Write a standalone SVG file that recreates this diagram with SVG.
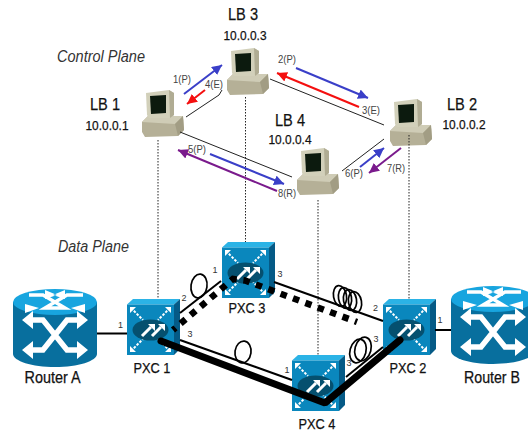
<svg xmlns="http://www.w3.org/2000/svg" xmlns:xlink="http://www.w3.org/1999/xlink" width="528" height="434" viewBox="0 0 528 434">
<style>
text{font-family:"Liberation Sans",Arial,sans-serif;fill:#111;stroke:#111;stroke-width:.25}
.t{font-size:16.5px;text-anchor:middle}
.ip{font-size:13.5px;text-anchor:middle}
.pl{font-size:16px;font-style:italic;fill:#333;stroke:none}
.m{font-size:11px;fill:#444;stroke:none;text-anchor:middle}
.n{font-size:9px;fill:#333;stroke:none;text-anchor:middle}
.px{font-size:15.5px;text-anchor:middle}
.ctl{stroke:#222;stroke-width:1;fill:none}
.dot{stroke:#222;stroke-width:1;stroke-dasharray:1.5 1.5;fill:none}
.link{stroke:#000;stroke-width:2;fill:none}
.coil2{stroke:#000;stroke-width:1.7;fill:none}
.blue{stroke:#3a3fc8;stroke-width:2;fill:none;marker-end:url(#ab)}
.red{stroke:#f40f0f;stroke-width:2;fill:none;marker-end:url(#ar)}
.pur{stroke:#7a1a8c;stroke-width:2;fill:none;marker-end:url(#ap)}
</style>
<defs>
<marker id="ab" markerUnits="userSpaceOnUse" markerWidth="12" markerHeight="12" refX="10" refY="5" orient="auto"><path d="M0 0L10 5L0 10Z" fill="#3a3fc8"/></marker>
<marker id="ar" markerUnits="userSpaceOnUse" markerWidth="12" markerHeight="12" refX="10" refY="5" orient="auto"><path d="M0 0L10 5L0 10Z" fill="#f40f0f"/></marker>
<marker id="ap" markerUnits="userSpaceOnUse" markerWidth="12" markerHeight="12" refX="10" refY="5" orient="auto"><path d="M0 0L10 5L0 10Z" fill="#7a1a8c"/></marker>
<symbol id="pc" width="44" height="50" viewBox="0 0 44 50" overflow="visible">
<path d="M0 33L6 27H41L42 41L36 47L3 48L0 43Z" fill="#b5b097"/>
<path d="M0 33L33 35L41 27H6Z" fill="#cfccb6"/>
<path d="M33 35L41 27L42 41L36 47Z" fill="#a29d84"/>
<path d="M4 4L27 1L32 4V26L28 29L7 29L5 26Z" fill="#d2d0ba"/>
<path d="M27 1L32 4V26L28 29Z" fill="#b0ac93"/>
<path d="M8 7L24 6V24L9 25Z" fill="#0c1a0e"/>
</symbol>
<symbol id="pxc" width="53" height="56" viewBox="0 0 53 56">
<path d="M0 5.500L6 0H53L47 5.500Z" fill="#2bb3e6"/>
<path d="M47 5.500L53 0V50L47 56Z" fill="#055a86"/>
<rect x="0" y="5.500" width="47" height="50.500" fill="#0a87bd"/>
<g stroke="#fff" stroke-width="2" stroke-dasharray="2.500 1.500" fill="none">
<path d="M4 9L16 21M43 9L31 21M4 52L16 40M43 52L31 40"/></g>
<path d="M3 14V8H9ZM44 14V8H38ZM3 47V53H9ZM44 47V53H38Z" fill="#fff"/>
<ellipse cx="23.500" cy="31" rx="18" ry="10.500" fill="#05506f"/>
<path d="M15 37L24 28M25 37L34 28" stroke="#fff" stroke-width="3" fill="none"/>
<path d="M21 25H28V32ZM31 25H38V32Z" fill="#fff"/>
</symbol>
<symbol id="router" width="84" height="78" viewBox="0 0 84 78">
<path d="M0 13V65C0 72 19 78 42 78S84 72 84 65V13Z" fill="#086f9e"/>
<ellipse cx="42" cy="13" rx="42" ry="13" fill="#18a5df"/>
<g stroke="#fff" fill="none">
<path d="M16 6H30L52 19H38M70 6H54L32 19H46" stroke-width="3.500"/>
<path d="M15 31H30L54 61H70M69 31H54L30 61H14" stroke-width="5.500"/>
</g>
<path d="M32 1L44 6L32 10ZM52 1L40 6L52 10ZM12 15L26 19L12 24ZM72 15L58 19L72 24Z" fill="#fff"/>
<path d="M9 31L20 22V40ZM75 31L64 22V40ZM9 61L20 52V70ZM75 61L64 52V70Z" fill="#fff"/>
</symbol>
</defs>

<g id="plane-labels">
<text class="pl" x="57" y="62" textLength="88" lengthAdjust="spacingAndGlyphs">Control Plane</text>
<text class="pl" x="58" y="252" textLength="71" lengthAdjust="spacingAndGlyphs">Data Plane</text>
</g>

<g id="lb1"><use href="#pc" x="142" y="89"/><text class="t" x="105" y="110" textLength="30" lengthAdjust="spacingAndGlyphs">LB 1</text><text class="ip" x="107" y="130" textLength="43" lengthAdjust="spacingAndGlyphs">10.0.0.1</text></g>
<g id="lb3"><use href="#pc" x="227" y="47"/><text class="t" x="243" y="20" textLength="30" lengthAdjust="spacingAndGlyphs">LB 3</text><text class="ip" x="245" y="40" textLength="43" lengthAdjust="spacingAndGlyphs">10.0.0.3</text></g>
<g id="lb4"><use href="#pc" x="297" y="147"/><text class="t" x="290" y="126" textLength="30" lengthAdjust="spacingAndGlyphs">LB 4</text><text class="ip" x="290" y="144" textLength="43" lengthAdjust="spacingAndGlyphs">10.0.0.4</text></g>
<g id="lb2"><use href="#pc" x="390" y="98"/><text class="t" x="462" y="110" textLength="30" lengthAdjust="spacingAndGlyphs">LB 2</text><text class="ip" x="464" y="129" textLength="43" lengthAdjust="spacingAndGlyphs">10.0.0.2</text></g>

<g id="router-a"><use href="#router" x="13" y="289"/><text class="t" x="52.500" y="383" textLength="56" lengthAdjust="spacingAndGlyphs">Router A</text></g>
<g id="router-b"><use href="#router" x="451" y="286"/><text class="t" x="492" y="383" textLength="56" lengthAdjust="spacingAndGlyphs">Router B</text></g>
<g id="pxc1"><use href="#pxc" x="127" y="299"/><text class="px" x="152" y="373" textLength="37" lengthAdjust="spacingAndGlyphs">PXC 1</text></g>
<g id="pxc3"><use href="#pxc" x="222" y="242"/><text class="px" x="247" y="313" textLength="37" lengthAdjust="spacingAndGlyphs">PXC 3</text></g>
<g id="pxc2"><use href="#pxc" x="383" y="299"/><text class="px" x="408" y="373" textLength="37" lengthAdjust="spacingAndGlyphs">PXC 2</text></g>
<g id="pxc4"><use href="#pxc" x="292" y="355"/><text class="px" x="317" y="429" textLength="37" lengthAdjust="spacingAndGlyphs">PXC 4</text></g>

<g id="connectors">
<path class="ctl" d="M222 90L219 95L186 117"/>
<path class="ctl" d="M270 79L384 125"/>
<path class="ctl" d="M180 132L292 177"/>
<path class="ctl" d="M342 171L384 139"/>
<path class="dot" d="M158 140V299M245.500 97V242M318 200V355M409 135V299"/>
<path class="blue" d="M184 94L222 65"/>
<path class="red" d="M205 90L187 104"/>
<path class="blue" d="M296 68L368 98"/>
<path class="red" d="M359 107L277 73"/>
<path class="blue" d="M210 154L284 184"/>
<path class="pur" d="M277 191L178 150"/>
<path class="blue" d="M360 167L384 148"/>
<path class="pur" d="M401 148L369 173"/>
<path class="link" d="M97 333.500H127M435 330H451"/>
<path class="link" d="M180 313L221 281"/>
<path class="link" d="M180 340L292 380"/>
<path class="link" d="M274 282L383 321"/>
<path class="link" d="M346 377L383 347"/>
<ellipse class="coil2" cx="199" cy="286" rx="8" ry="12" transform="rotate(8 199 286)"/>
<ellipse class="coil2" cx="243" cy="352" rx="8" ry="11" transform="rotate(8 243 352)"/>
<ellipse class="coil2" cx="340" cy="296" rx="6.500" ry="10.500" transform="rotate(-10 340 296)"/>
<ellipse class="coil2" cx="345" cy="298" rx="6.500" ry="10.500" transform="rotate(-10 345 298)"/>
<ellipse class="coil2" cx="350" cy="300" rx="6.500" ry="10.500" transform="rotate(-10 350 300)"/>
<ellipse class="coil2" cx="355" cy="302" rx="6.500" ry="10.500" transform="rotate(-10 355 302)"/>
<ellipse class="coil2" cx="358" cy="351" rx="8" ry="12" transform="rotate(15 358 351)"/>
<ellipse class="coil2" cx="363" cy="349" rx="8" ry="12" transform="rotate(15 363 349)"/>
<path d="M173 330L233 279L245 280.500L357 322" stroke="#000" stroke-width="6.500" stroke-dasharray="6.500 6.700" stroke-dashoffset="3.200" fill="none"/>
<path d="M161 341L325 403L400 340" stroke="#000" stroke-width="7" fill="none" stroke-linejoin="bevel" stroke-linecap="round"/>
</g>

<g id="labels">
<text class="m" x="182" y="83" textLength="18" lengthAdjust="spacingAndGlyphs">1(P)</text>
<text class="m" x="214" y="88" textLength="18" lengthAdjust="spacingAndGlyphs">4(E)</text>
<text class="m" x="287" y="63" textLength="18" lengthAdjust="spacingAndGlyphs">2(P)</text>
<text class="m" x="371" y="114" textLength="18" lengthAdjust="spacingAndGlyphs">3(E)</text>
<text class="m" x="197" y="153" textLength="18" lengthAdjust="spacingAndGlyphs">5(P)</text>
<text class="m" x="287" y="197" textLength="18" lengthAdjust="spacingAndGlyphs">8(R)</text>
<text class="m" x="354" y="177" textLength="18" lengthAdjust="spacingAndGlyphs">6(P)</text>
<text class="m" x="396" y="172" textLength="18" lengthAdjust="spacingAndGlyphs">7(R)</text>
<text class="n" x="120.500" y="328">1</text>
<text class="n" x="184" y="301">2</text>
<text class="n" x="190" y="337">3</text>
<text class="n" x="215" y="273">1</text>
<text class="n" x="280" y="277">3</text>
<text class="n" x="375.500" y="311">2</text>
<text class="n" x="376" y="342">3</text>
<text class="n" x="440" y="323">1</text>
<text class="n" x="287" y="373">1</text>
<text class="n" x="349" y="366">3</text>
</g>
</svg>
